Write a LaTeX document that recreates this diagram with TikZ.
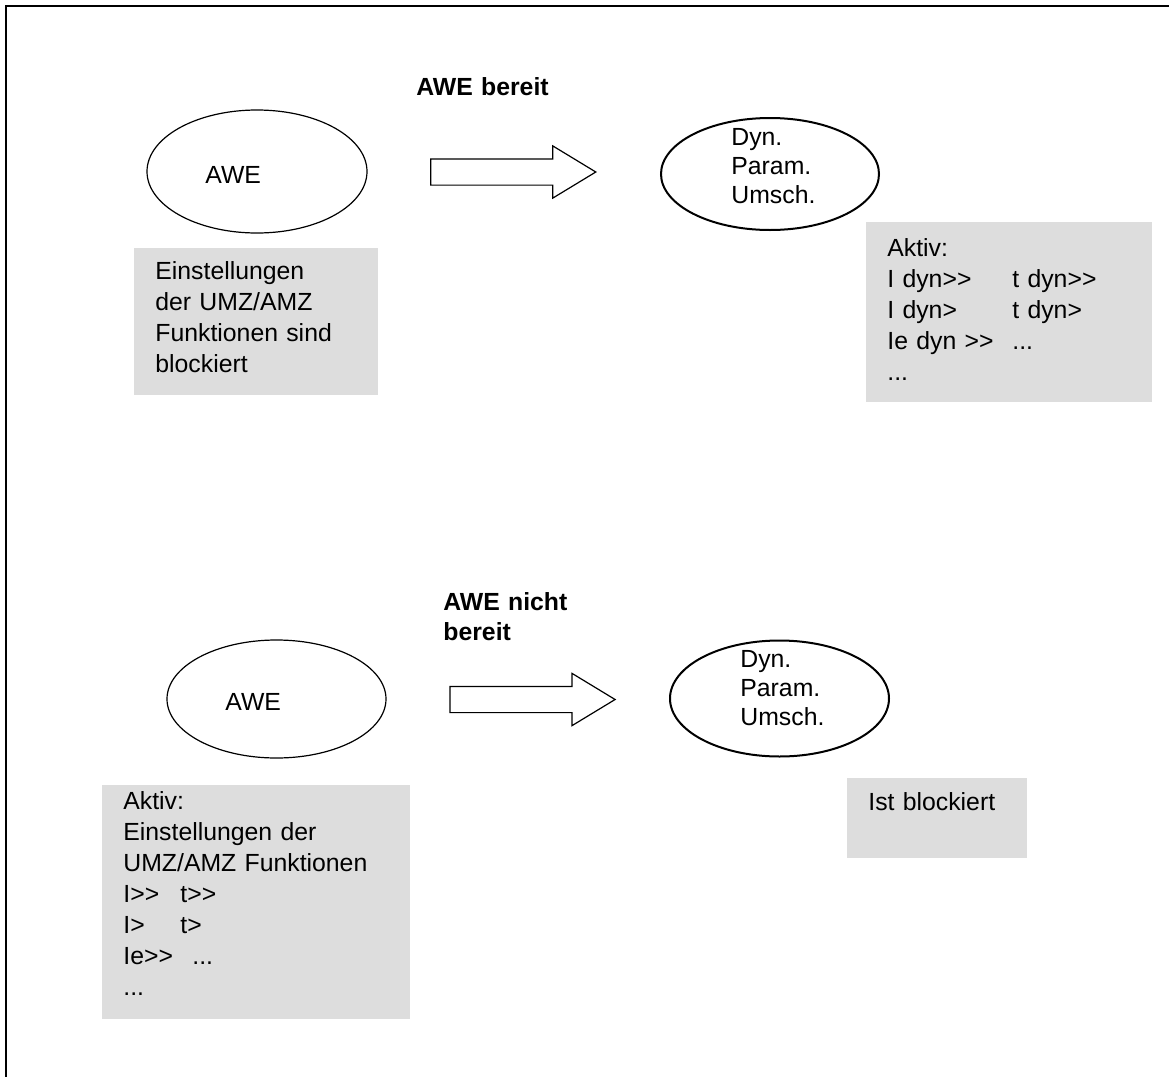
\documentclass[tikz,border=0pt]{standalone}
\usepackage{fontspec}
\setmainfont{Liberation Sans}[Ligatures=TeXOff]
\usetikzlibrary{shapes.geometric,shapes.arrows}
\definecolor{BoxGrey}{HTML}{DDDDDD}

\begin{document}
\begin{tikzpicture}[
    x=0.5pt, y=-0.5pt,
    oval/.style={
      ellipse,
      draw,
      line width=0.6pt,
      inner sep=0pt
    },
    dynoval/.style={oval, line width=1pt},
    greybox/.style={
      rectangle,
      fill=BoxGrey,
      inner sep=0pt,
      anchor=north west
    },
    boxtext/.style={
      anchor=base west,
      inner sep=0pt,
      text width=170pt,
      align=left,
      font=\fontsize{12.4}{15.5}\selectfont
    },
    ovaltext/.style={boxtext, font=\fontsize{12.4}{14.5}\selectfont},
    caption/.style={boxtext, font=\fontsize{12.4}{15}\selectfont\bfseries},
    blockarrow/.style={
      single arrow,
      draw,
      line width=0.6pt,
      inner xsep=0pt,
      inner ysep=6.25pt,
      text height=0pt,
      text depth=0pt,
      minimum width=25.5pt,
      minimum height=82.5pt,
      single arrow head extend=6.5pt,
      single arrow tip angle=62.5
    }]

    \useasboundingbox (0,0) rectangle (1169,1077);

    % frame (top and left edge only)
    \draw[line width=1.1pt] (6,1077) -- (6,6) -- (1169,6);

    % upper case: AWE ready
    \node[oval,minimum width=110pt,minimum height=61.5pt] (aweOn) at (257,171.5) {};
    \node[ovaltext] (aweOnText) at (205,183) {AWE};
    \node[dynoval,minimum width=109pt,minimum height=56pt] (dynOn) at (770,174) {};
    \node[ovaltext] (dynOnText) at (731,145.5) {Dyn.\\Param.\\Umsch.};
    \node[blockarrow] (arrowOn) at (502.5,172) {};
    \node[caption] (capOn) at (416,95) {AWE bereit};

    \node[greybox,minimum width=122pt,minimum height=73.5pt] (boxAweOn) at (134,248) {};
    \node[boxtext] (txtAweOn) at (155,279) {Einstellungen\\der UMZ/AMZ\\Funktionen sind\\blockiert};
    \node[greybox,minimum width=143pt,minimum height=90pt] (boxDynOn) at (866,222) {};
    \node[boxtext] (txtDynOn) at (887,256) {Aktiv:\\
      \makebox[62.5pt][l]{I dyn>>}t dyn>>\\
      \makebox[62.5pt][l]{I dyn>}t dyn>\\
      \makebox[62.5pt][l]{Ie dyn >>}...\\
      ...};

    % lower case: AWE not ready
    \node[oval,minimum width=109.5pt,minimum height=59pt] (aweOff) at (276.5,699) {};
    \node[ovaltext] (aweOffText) at (225,710) {AWE};
    \node[dynoval,minimum width=109.5pt,minimum height=58pt] (dynOff) at (779.5,698.5) {};
    \node[ovaltext] (dynOffText) at (740,667) {Dyn.\\Param.\\Umsch.};
    \node[blockarrow] (arrowOff) at (521.8,699.5) {};
    \node[caption] (capOff) at (443,610) {AWE nicht\\bereit};

    \node[greybox,minimum width=154pt,minimum height=117pt] (boxAweOff) at (102,785) {};
    \node[boxtext] (txtAweOff) at (123,809) {Aktiv:\\Einstellungen der\\UMZ/AMZ Funktionen\\
      \makebox[28.5pt][l]{I>>}t>>\\
      \makebox[28.5pt][l]{I>}t>\\
      \makebox[34.5pt][l]{Ie>>}...\\
      ...};
    \node[greybox,minimum width=90pt,minimum height=40pt] (boxDynOff) at (847,778) {};
    \node[boxtext] (txtDynOff) at (868,810) {Ist blockiert};
  \end{tikzpicture}
\end{document}
